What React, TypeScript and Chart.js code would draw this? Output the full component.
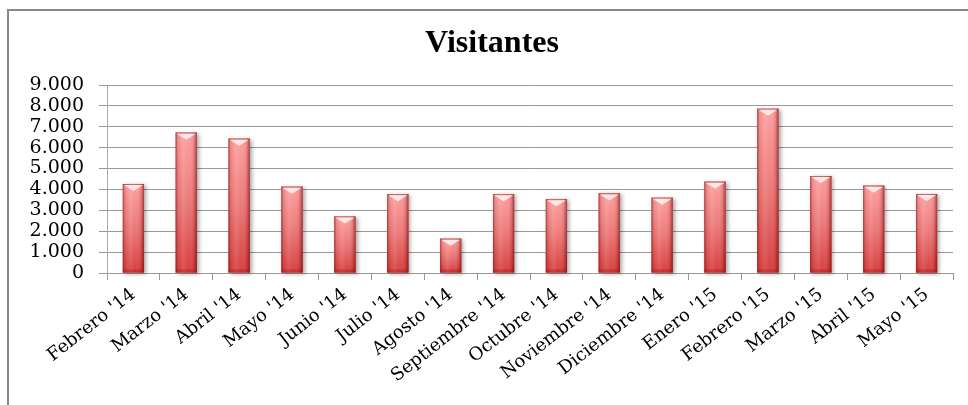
import React, { useEffect, useRef } from 'react';
import { Chart, registerables } from 'chart.js';

Chart.register(...registerables);

const chartTitle = 'Visitantes';
const categories = [
  "Febrero '14", "Marzo '14", "Abril '14", "Mayo '14", "Junio '14", "Julio '14",
  "Agosto '14", "Septiembre '14", "Octubre '14", "Noviembre '14", "Diciembre '14",
  "Enero '15", "Febrero '15", "Marzo '15", "Abril '15", "Mayo '15",
];
const visitantes = [4260, 6720, 6430, 4130, 2700, 3770, 1640, 3770, 3530, 3810, 3600, 4370, 7860, 4640, 4180, 3780];
const yMin = 0;
const yMax = 9000;
const yStep = 1000;

function formatThousands(v: number): string {
  return String(Math.round(v)).replace(/\B(?=(\d{3})+(?!\d))/g, '.');
}

const W = 968;
const H = 405;

const framePlugin = {
  id: 'frame',
  beforeDraw(chart: any) {
    const ctx = chart.ctx;
    ctx.save();
    ctx.fillStyle = '#ffffff';
    ctx.fillRect(0, 0, chart.width, chart.height);
    ctx.strokeStyle = '#8a8a8a';
    ctx.lineWidth = 2;
    ctx.strokeRect(8, 10, chart.width + 20, chart.height + 20);
    ctx.restore();
  },
};

const barStylePlugin = {
  id: 'barStyle',
  beforeDatasetsDraw(chart: any) {
    const ctx = chart.ctx;
    const meta = chart.getDatasetMeta(0);
    ctx.save();
    meta.data.forEach((bar: any) => {
      const { x, y, base, width } = bar.getProps(['x', 'y', 'base', 'width'], true);
      ctx.shadowColor = 'rgba(0,0,0,0.35)';
      ctx.shadowBlur = 4;
      ctx.shadowOffsetX = 2;
      ctx.shadowOffsetY = 1;
      ctx.fillStyle = '#c84848';
      ctx.fillRect(x - width / 2, y, width, base - y);
    });
    ctx.restore();
  },
  afterDatasetsDraw(chart: any) {
    const ctx = chart.ctx;
    const meta = chart.getDatasetMeta(0);
    ctx.save();
    meta.data.forEach((bar: any) => {
      const { x, y, base, width } = bar.getProps(['x', 'y', 'base', 'width'], true);
      const l = x - width / 2;
      const r = x + width / 2;
      const t = y;
      const b = base;
      const h = b - t;
      const vg = ctx.createLinearGradient(0, t, 0, b);
      vg.addColorStop(0, '#ffa0a0');
      vg.addColorStop(0.5, '#ec7878');
      vg.addColorStop(1, '#d63e3e');
      ctx.fillStyle = vg;
      ctx.fillRect(l, t, width, h);
      const hg = ctx.createLinearGradient(l, 0, r, 0);
      hg.addColorStop(0, 'rgba(110,10,10,0.6)');
      hg.addColorStop(0.1, 'rgba(140,20,20,0.12)');
      hg.addColorStop(0.35, 'rgba(255,255,255,0.10)');
      hg.addColorStop(0.6, 'rgba(255,255,255,0)');
      hg.addColorStop(0.85, 'rgba(120,10,10,0.15)');
      hg.addColorStop(1, 'rgba(100,0,0,0.6)');
      ctx.fillStyle = hg;
      ctx.fillRect(l, t, width, h);
      const bh = Math.min(3, h / 3);
      ctx.fillStyle = 'rgba(150,20,20,0.3)';
      ctx.fillRect(l, b - bh, width, bh);
      const bev = Math.min(7, h / 2);
      ctx.fillStyle = 'rgba(150,40,40,0.5)';
      ctx.fillRect(l, t, width, 1);
      ctx.beginPath();
      ctx.moveTo(l + 1, t + 1);
      ctx.lineTo(r - 1, t + 1);
      ctx.lineTo(x, t + bev);
      ctx.closePath();
      ctx.fillStyle = 'rgba(255,238,238,0.9)';
      ctx.fill();
    });
    ctx.restore();
  },
};

export default function App() {
  const ref = useRef<HTMLCanvasElement | null>(null);

  useEffect(() => {
    const canvas = ref.current;
    if (!canvas) return;
    const chart = new Chart(canvas, {
      type: 'bar',
      data: {
        labels: categories,
        datasets: [
          {
            label: chartTitle,
            data: visitantes,
            backgroundColor: '#e05a5a',
            borderWidth: 0,
            barPercentage: 0.4,
            categoryPercentage: 1.0,
            yAxisID: 'y',
          },
        ],
      },
      options: {
        animation: false,
        responsive: false,
        devicePixelRatio: 1,
        layout: { padding: { left: 18, right: 2, top: 0, bottom: 0 } },
        plugins: {
          legend: { display: false },
          tooltip: { enabled: false },
          title: {
            display: true,
            text: chartTitle,
            color: '#000000',
            font: { family: 'Liberation Serif', size: 32, weight: 'bold' },
            padding: { top: 25, bottom: 21.6 },
          },
        },
        scales: {
          x: {
            grid: { display: true, drawOnChartArea: false, tickLength: 7, color: '#999999', offset: true },
            border: { color: '#999999' },
            ticks: {
              autoSkip: false,
              minRotation: 38,
              maxRotation: 38,
              padding: 4,
              color: '#000000',
              font: { family: 'DejaVu Serif', size: 18 },
            },
            afterFit: (s: any) => {
              s.height = 132;
            },
          },
          y: {
            position: 'left',
            min: yMin,
            max: yMax,
            ticks: {
              stepSize: yStep,
              autoSkip: false,
              padding: 15,
              color: '#000000',
              font: { family: 'DejaVu Serif', size: 19, lineHeight: 1 },
              callback: (v: any) => formatThousands(Number(v)),
            },
            grid: { color: '#999999', tickLength: 8 },
            border: { color: '#aaaaaa' },
            afterFit: (s: any) => {
              s.width = 89;
            },
          },
          yRight: {
            type: 'linear',
            axis: 'y',
            position: 'right',
            min: yMin,
            max: yMax,
            grid: { display: false, drawTicks: false },
            border: { display: false },
            ticks: { display: false },
            afterFit: (s: any) => {
              s.width = 13;
            },
          },
        },
      },
      plugins: [framePlugin, barStylePlugin],
    });
    return () => chart.destroy();
  }, []);

  return (
    <div style={{ position: 'absolute', left: 0, top: 0, width: W, height: H }}>
      <canvas ref={ref} width={W} height={H} style={{ display: 'block', width: W, height: H }} />
    </div>
  );
}
